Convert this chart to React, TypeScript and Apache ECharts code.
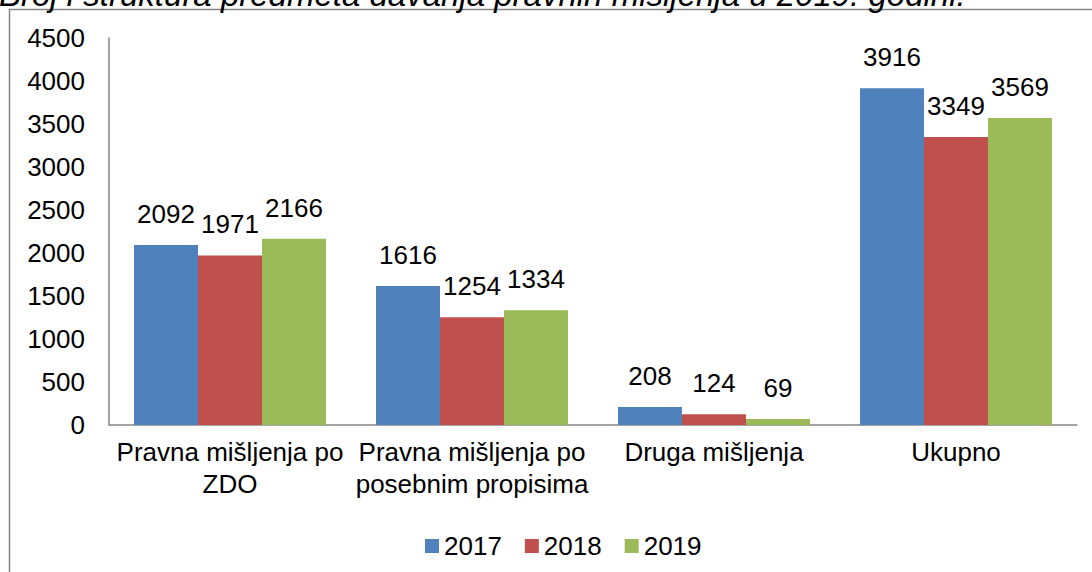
import React, { useEffect, useRef } from "react";
import * as echarts from "echarts";

const categories = [
  "Pravna mišljenja po\nZDO",
  "Pravna mišljenja po\nposebnim propisima",
  "Druga mišljenja",
  "Ukupno",
];
const years = ["2017", "2018", "2019"];
const values2017 = [2092, 1616, 208, 3916];
const values2018 = [1971, 1254, 124, 3349];
const values2019 = [2166, 1334, 69, 3569];
const colors = ["#4F81BD", "#C0504D", "#9BBB59"];
const titleText = "Broj i struktura predmeta davanja pravnih mišljenja u 2019. godini.";

const FONT = "'Liberation Sans', Arial, sans-serif";
const FS = 26;

export default function App() {
  const ref = useRef<HTMLDivElement>(null);
  useEffect(() => {
    if (!ref.current) return;
    const chart = echarts.init(ref.current, null, { renderer: "svg" });
    const seriesData = [values2017, values2018, values2019];
    chart.setOption({
      animation: false,
      backgroundColor: "#ffffff",
      textStyle: { fontFamily: FONT },
      color: colors,
      graphic: [
        {
          type: "rect",
          z: -10,
          silent: true,
          shape: { x: 9.5, y: 9.5, width: 1300, height: 800 },
          style: { fill: "none", stroke: "#868686", lineWidth: 1.5 },
        },
        {
          type: "text",
          silent: true,
          x: -1,
          y: -6,
          style: {
            text: titleText,
            font: `italic 33px ${FONT}`,
            fill: "#000000",
            textAlign: "left",
            textVerticalAlign: "middle",
          },
        },
      ],
      grid: { left: 109, top: 38, right: 15, bottom: 147, containLabel: false },
      legend: {
        data: years,
        left: 420,
        top: 528,
        itemWidth: 14,
        itemHeight: 14,
        itemGap: 23,
        icon: "rect",
        textStyle: { fontSize: FS, color: "#000", fontFamily: FONT },
      },
      xAxis: {
        type: "category",
        data: categories,
        axisLine: { lineStyle: { color: "#868686", width: 1.5 } },
        axisTick: { show: false },
        axisLabel: {
          interval: 0,
          fontSize: FS,
          lineHeight: 32,
          color: "#000",
          margin: 11,
          fontFamily: FONT,
        },
      },
      yAxis: {
        type: "value",
        min: 0,
        max: 4500,
        interval: 500,
        splitLine: { show: false },
        axisLine: { show: true, lineStyle: { color: "#868686", width: 1.5 } },
        axisTick: { show: false },
        axisLabel: {
          fontSize: FS,
          color: "#000",
          margin: 24,
          fontFamily: FONT,
          formatter: (v: number) => String(v),
        },
      },
      series: years.map((y, i) => ({
        name: y,
        type: "bar",
        data: seriesData[i],
        barWidth: 64,
        barGap: "0%",
        itemStyle: { color: colors[i] },
        label: {
          show: true,
          position: "top",
          distance: 18,
          fontSize: FS,
          color: "#000",
          fontFamily: FONT,
        },
      })),
    });
    return () => chart.dispose();
  }, []);
  return (
    <div
      ref={ref}
      style={{ position: "fixed", left: 0, top: 0, width: 1092, height: 572 }}
    />
  );
}
